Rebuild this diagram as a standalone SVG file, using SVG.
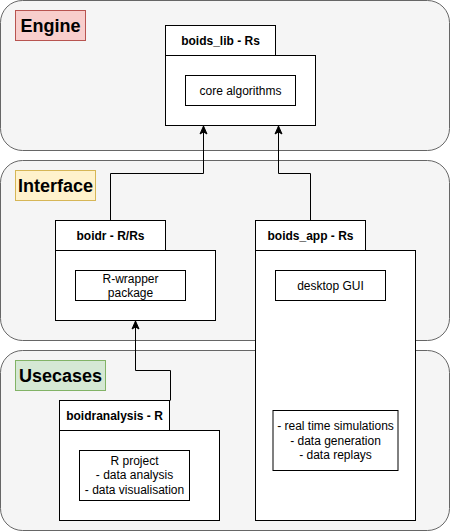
<svg xmlns="http://www.w3.org/2000/svg" width="451" height="531" viewBox="0 0 451 531">
<style>
.cont{fill:#f5f5f5;stroke:#666666;stroke-width:1}
.box{fill:#ffffff;stroke:#000000;stroke-width:1}
.lbl{font-family:"Liberation Sans",Arial,sans-serif;font-weight:bold;font-size:18px;fill:#000;text-anchor:middle}
.tab{font-family:"Liberation Sans",Arial,sans-serif;font-weight:bold;font-size:12px;fill:#000;text-anchor:middle}
.txt{font-family:"Liberation Sans",Arial,sans-serif;font-size:12px;fill:#000;text-anchor:middle}
.edge{fill:none;stroke:#000;stroke-width:1}
</style>
<defs>
<marker id="arr" markerUnits="userSpaceOnUse" markerWidth="10" markerHeight="10" viewBox="0 0 10 10" refX="9" refY="5" orient="auto">
<path d="M1,1.5 L9,5 L1,8.5 L3,5 Z" fill="#000" stroke="#000" stroke-width="1"/>
</marker>
</defs>
<g id="engine">
<rect class="cont" x="0.5" y="0.5" width="449" height="150" rx="22" ry="22"/>
<rect x="15.5" y="10.5" width="70" height="30" fill="#f8cecc" stroke="#b85450"/>
<text class="lbl" x="50.5" y="32">Engine</text>
</g>
<g id="interface">
<rect class="cont" x="0.5" y="160.5" width="449" height="180" rx="22" ry="22"/>
<rect x="15.5" y="170.5" width="80" height="30" fill="#fff2cc" stroke="#d6b656"/>
<text class="lbl" x="55.5" y="192">Interface</text>
</g>
<g id="usecases">
<rect class="cont" x="0.5" y="350.5" width="449" height="180" rx="22" ry="22"/>
<rect x="15.5" y="360.5" width="90" height="30" fill="#d5e8d4" stroke="#82b366"/>
<text class="lbl" x="60.5" y="382">Usecases</text>
</g>
<g id="boids_lib">
<rect class="box" x="165.5" y="25.5" width="110" height="30"/>
<rect class="box" x="165.5" y="55.5" width="150" height="70"/>
<text class="tab" x="220.5" y="45">boids_lib - Rs</text>
<rect class="box" x="185.5" y="75.5" width="110" height="30"/>
<text class="txt" x="240.5" y="94.5">core algorithms</text>
</g>
<g id="boidr">
<rect class="box" x="55.5" y="220.5" width="110" height="30"/>
<rect class="box" x="55.5" y="250.5" width="160" height="70"/>
<text class="tab" x="110.5" y="240">boidr - R/Rs</text>
<rect class="box" x="75.5" y="270.5" width="110" height="30"/>
<text class="txt" x="130.5" y="282.5">R-wrapper</text>
<text class="txt" x="130.5" y="296.5">package</text>
</g>
<g id="boids_app">
<rect class="box" x="255.5" y="220.5" width="110" height="30"/>
<rect class="box" x="255.5" y="250.5" width="160" height="270"/>
<text class="tab" x="310.5" y="240">boids_app - Rs</text>
<rect class="box" x="275.5" y="270.5" width="110" height="30"/>
<text class="txt" x="330.5" y="289.5">desktop GUI</text>
<rect class="box" x="273" y="410.5" width="125" height="60"/>
<text class="txt" x="335.5" y="430">- real time simulations</text>
<text class="txt" x="335.5" y="444.5">- data generation</text>
<text class="txt" x="335.5" y="459">- data replays</text>
</g>
<g id="boidranalysis">
<rect class="box" x="59.5" y="400.5" width="110" height="30"/>
<rect class="box" x="59.5" y="430.5" width="160" height="90"/>
<text class="tab" x="114.5" y="420">boidranalysis - R</text>
<rect class="box" x="79.5" y="450.5" width="110" height="50"/>
<text class="txt" x="134.5" y="464.5">R project</text>
<text class="txt" x="134.5" y="479">- data analysis</text>
<text class="txt" x="134.5" y="493.5">- data visualisation</text>
</g>
<g id="connectors">
<path class="edge" d="M110.5,220.5 V173.5 H203.5 V126" marker-end="url(#arr)"/>
<path class="edge" d="M310.5,220.5 V173.5 H278.5 V126" marker-end="url(#arr)"/>
<path class="edge" d="M170.5,400.5 V370.5 H135.5 V321" marker-end="url(#arr)"/>
</g>
</svg>
